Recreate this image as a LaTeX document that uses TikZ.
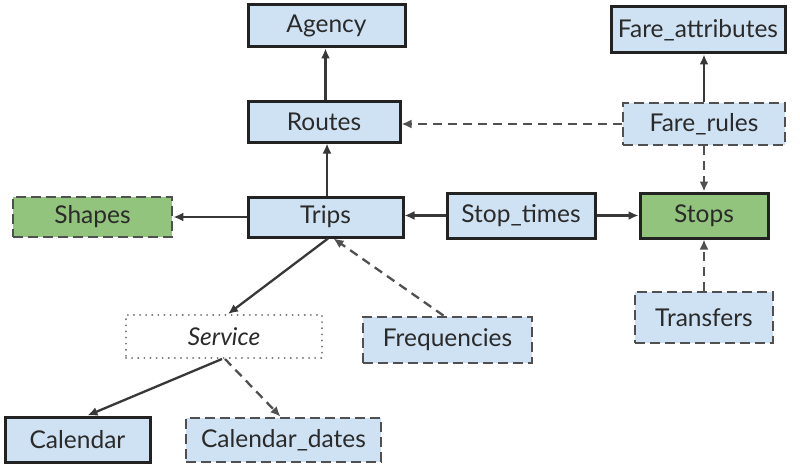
\documentclass[tikz,border=0pt]{standalone}
\usepackage{fontspec}
\setmainfont{Lato}
\usetikzlibrary{arrows.meta,calc}
\definecolor{boxblue}{HTML}{CFE2F3}
\definecolor{boxgreen}{HTML}{93C47D}
\definecolor{solidline}{HTML}{222222}
\definecolor{dashline}{HTML}{505050}
\definecolor{textcol}{HTML}{2A2A2A}
\tikzset{
  base/.style={rectangle, inner sep=0pt, font=\fontsize{24.5}{28}\selectfont, text=textcol},
  solidbox/.style={base, draw=solidline, line width=3pt},
  dashbox/.style={base, draw=dashline, line width=2.8pt, dash pattern=on 10pt off 5pt},
  dotbox/.style={base, draw=black!55, line width=2pt, dash pattern=on 0.1pt off 6pt, line cap=round, fill=white, font=\fontsize{24.5}{28}\selectfont\itshape},
  solidarrow/.style={draw=solidline!90, line width=2.3pt, -{Latex[length=10pt,width=9pt]}},
  dasharrow/.style={draw=dashline, line width=2.3pt, dash pattern=on 9pt off 6pt, -{Latex[length=10pt,width=9pt]}},
}
\begin{document}
\begin{tikzpicture}[x=1pt,y=-1pt]
\useasboundingbox (0,0) rectangle (800,468);
\fill[white] (0,0) rectangle (800,468);
% nodes
\node[solidbox, fill=boxblue, minimum width=157pt, minimum height=42pt] (agency) at (326.5,26) {Agency};
\node[solidbox, fill=boxblue, minimum width=152pt, minimum height=40pt] (routes) at (324,122) {Routes};
\node[solidbox, fill=boxblue, minimum width=155pt, minimum height=40pt] (trips) at (325.5,217) {Trips};
\node[dashbox, fill=boxgreen, minimum width=159pt, minimum height=40pt] (shapes) at (92.5,217) {Shapes};
\node[solidbox, fill=boxblue, minimum width=148pt, minimum height=45pt] (stoptimes) at (521,215.5) {Stop\_times};
\node[solidbox, fill=boxgreen, minimum width=128pt, minimum height=45pt] (stops) at (704,215.5) {Stops};
\node[dashbox, fill=boxblue, minimum width=162pt, minimum height=42pt] (farerules) at (704,124) {Fare\_rules};
\node[solidbox, fill=boxblue, minimum width=174pt, minimum height=46pt] (fareattr) at (698,30) {Fare\_attributes};
\node[dotbox, minimum width=196pt, minimum height=43pt] (service) at (224,336.5) {Service};
\node[dashbox, fill=boxblue, minimum width=169pt, minimum height=46pt] (freq) at (447.5,340) {Frequencies};
\node[dashbox, fill=boxblue, minimum width=138pt, minimum height=51pt] (transfers) at (704,317.5) {Transfers};
\node[solidbox, fill=boxblue, minimum width=145pt, minimum height=45pt] (calendar) at (77.5,439.5) {Calendar};
\node[dashbox, fill=boxblue, minimum width=195pt, minimum height=44pt] (caldates) at (283.5,440) {Calendar\_dates};
% connectors
\draw[solidarrow] ([xshift=1.5pt]routes.north) -- ([xshift=1.5pt]routes.north |- agency.south);
\draw[solidarrow] ([xshift=1.5pt]trips.north) -- ([xshift=1.5pt]trips.north |- routes.south);
\draw[solidarrow] (trips.west) -- (trips.west -| shapes.east);
\draw[solidarrow] (stoptimes.west) -- (stoptimes.west -| trips.east);
\draw[solidarrow] (stoptimes.east) -- (stoptimes.east -| stops.west);
\draw[dasharrow] (farerules.west) -- (farerules.west -| routes.east);
\draw[solidarrow] (farerules.north) -- (farerules.north |- fareattr.south);
\draw[dasharrow] (farerules.south) -- (stops.north);
\draw[dasharrow] (transfers.north) -- (stops.south);
\draw[solidarrow] ([xshift=2.5pt]trips.south) -- ([xshift=4pt]service.north);
\draw[dasharrow] ([xshift=-4pt]freq.north) -- ([xshift=8pt]trips.south);
\draw[solidarrow] ([xshift=-2pt]service.south) -- ([xshift=10pt]calendar.north);
\draw[dasharrow] ([xshift=1pt]service.south) -- ([xshift=-3pt]caldates.north);
\end{tikzpicture}
\end{document}
